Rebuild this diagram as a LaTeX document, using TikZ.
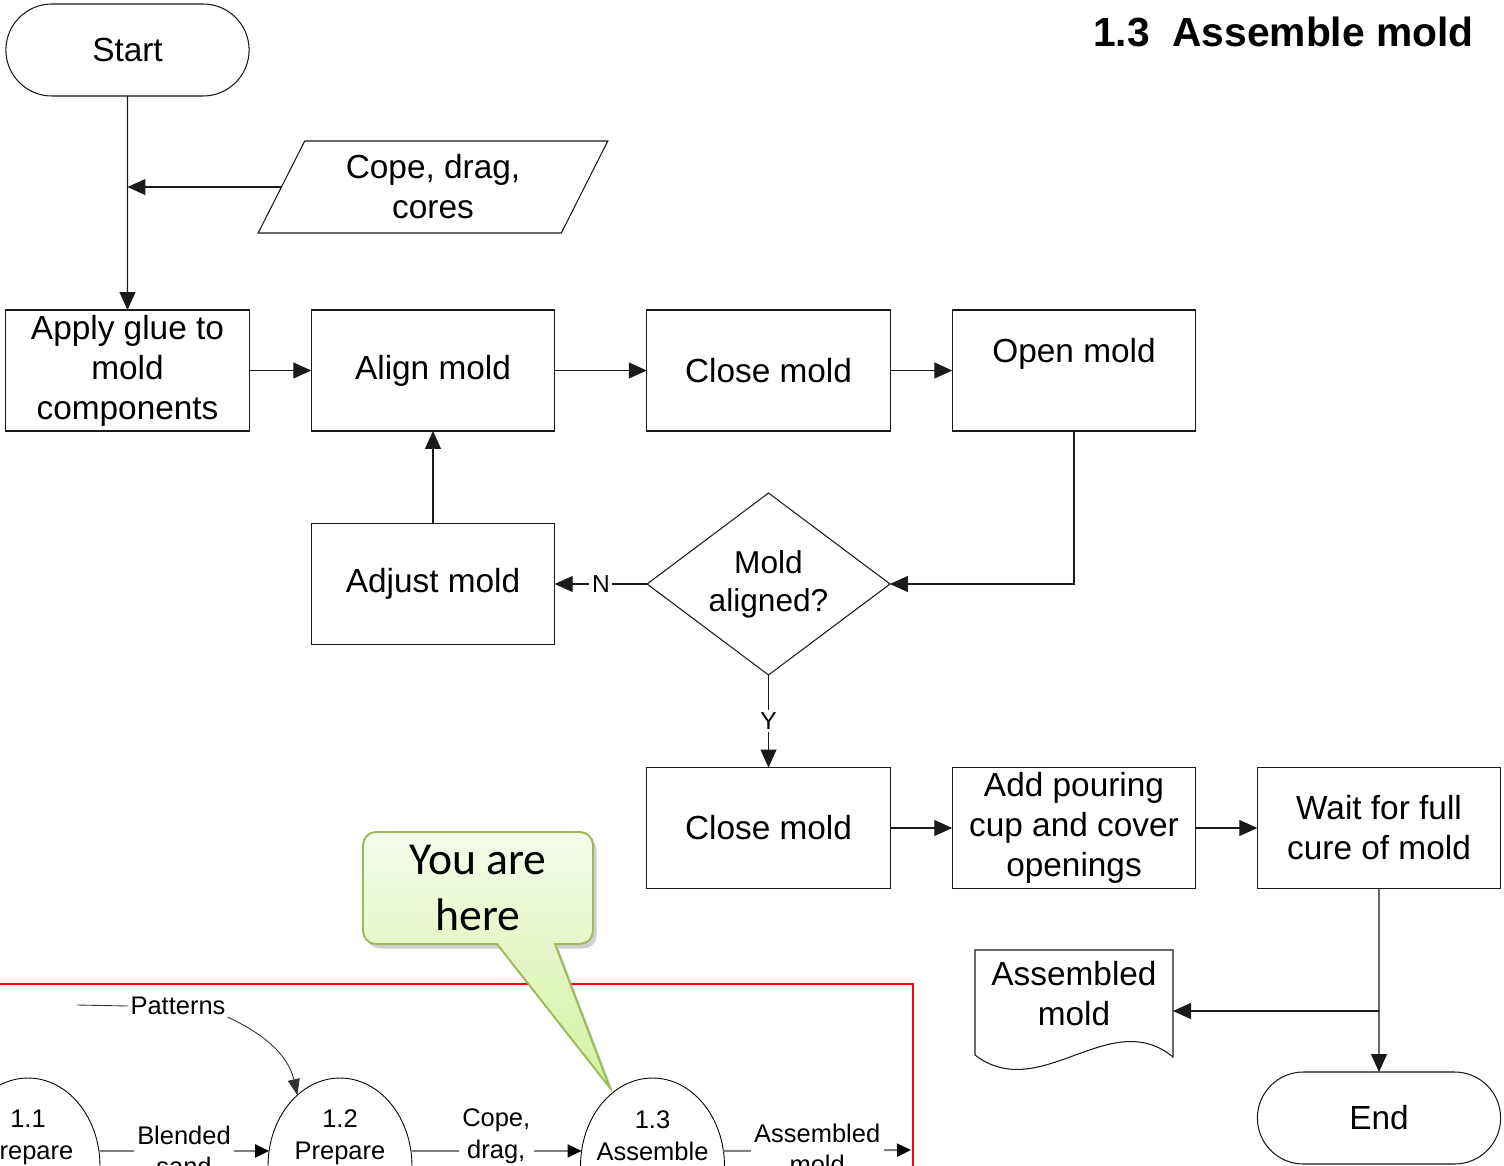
\documentclass[tikz,border=0pt]{standalone}
\usepackage{fontspec}
\setmainfont{Liberation Sans}
\newfontfamily\calloutfont{Carlito}
\usetikzlibrary{arrows.meta,shapes.geometric,shapes.misc,shadows}

\definecolor{flowline}{HTML}{1A1A1A}
\definecolor{dfdgray}{HTML}{7F7F7F}
\definecolor{callTop}{HTML}{F4FCEA}
\definecolor{callBot}{HTML}{D4F1A0}
\definecolor{callEdge}{HTML}{9BBB59}

\tikzset{
  flow/.style={draw=flowline, line width=0.6pt, align=center,
    font=\fontsize{19}{22.8}\selectfont},
  procbox/.style={flow, rectangle, minimum width=4.87cm, minimum height=2.42cm,
    inner sep=2pt, outer sep=0pt},
  terminal/.style={flow, rounded rectangle, minimum width=5.1cm,
    minimum height=1.84cm, outer sep=0pt},
  conn/.style={draw=flowline, line width=0.65pt,
    -{Triangle[length=0.36cm,width=0.32cm]}},
  yesno/.style={fill=white, inner sep=1.5pt, font=\fontsize{14}{16}\selectfont},
  dtext/.style={align=center, font=\fontsize{14.5}{18.1}\selectfont},
  dlab/.style={dtext, fill=white, inner sep=2pt},
  bubble/.style={ellipse, draw=black, line width=0.5pt, minimum width=2.88cm,
    minimum height=3.52cm, inner sep=0pt, outer sep=0pt},
  dfd/.style={draw=dfdgray, line width=1.1pt,
    -{Triangle[length=0.28cm,width=0.26cm,color=black]}},
  thinflow/.style={draw=black!80, line width=0.5pt},
  callout/.style={draw=callEdge, line width=1.1pt, top color=callTop,
    bottom color=callBot,
    drop shadow={shadow xshift=0.07cm, shadow yshift=-0.09cm, opacity=0.3,
      fill=black!60}}
}

\begin{document}
\begin{tikzpicture}[x=0.02cm,y=-0.02cm]
\useasboundingbox (0,0) rectangle (1504,1166);
\clip (0,0) rectangle (1504,1166);
\fill[white] (0,0) rectangle (1504,1166);

% title
\node[anchor=base east, inner sep=0pt, font=\bfseries\fontsize{23.2}{28}\selectfont]
  (title) at (1474,47) {1.3\ \ Assemble mold};

% flowchart nodes
\node[terminal] (start) at (127.5,50) {Start};
\node[flow, trapezium, trapezium left angle=63.9, trapezium right angle=116.1,
  trapezium stretches=true, minimum width=7cm, minimum height=1.84cm,
  inner sep=0pt, outer sep=0pt] (cope) at (433,187) {Cope, drag,\\cores};
\node[procbox] (apply) at (127.5,370.5) {Apply glue to\\mold\\components};
\node[procbox] (align) at (433,370.5) {Align mold};
\node[procbox] (close1) at (768.5,370.5) {Close mold};
\node[procbox] (open) at (1074,370.5) {Open mold\\\mbox{}};
\node[flow, diamond, minimum width=4.86cm, minimum height=3.64cm,
  inner sep=0pt, outer sep=0pt] (dec) at (768.5,584) {};
\node[align=center, font=\fontsize{18}{21.5}\selectfont] (decText)
  at (768.5,584) {Mold\\aligned?};
\node[procbox] (adjust) at (433,584) {Adjust mold};
\node[procbox] (close2) at (768.5,828) {Close mold};
\node[procbox] (pour) at (1074,828) {Add pouring\\cup and cover\\openings};
\node[procbox] (wait) at (1379,828) {Wait for full\\cure of mold};
\node[terminal] (end) at (1379,1118) {End};

% document shape with wavy lower edge
\draw[draw=flowline, line width=0.6pt]
  (975,1055) -- (975,950) -- (1173,950) -- (1173,1057)
  .. controls (1110,1005) and (1040,1105) .. (975,1055);
\node[align=center, font=\fontsize{19}{22.8}\selectfont] (doc)
  at (1074,994) {Assembled\\mold};
\coordinate (docE) at (1173,1011);

% flowchart connectors
\draw[conn] (start) -- (apply);
\draw[conn] (cope.west) -- (start.south |- cope.west);
\draw[conn] (apply) -- (align);
\draw[conn] (align) -- (close1);
\draw[conn] (close1) -- (open);
\draw[conn] (open.south) |- (dec.east);
\draw[conn] (dec.west) -- node[yesno] {N} (adjust.east);
\draw[conn] (adjust) -- (align);
\draw[conn] (dec.south) -- node[yesno] {Y} (close2.north);
\draw[conn] (close2) -- (pour);
\draw[conn] (pour) -- (wait);
\draw[conn] (wait) -- (end);
\draw[conn] (wait.south |- docE) -- (docE);

% context: level-1 data flow
\draw[red, line width=1.2pt] (-20,984) rectangle (913,1300);

\node[bubble] (p11) at (28,1166) {};
\node[bubble] (p12) at (340,1166) {};
\node[bubble] (p13) at (652.5,1166) {};
\node[dtext] (t11) at (28,1137) {1.1\\Prepare};
\node[dtext] (t12) at (340,1137) {1.2\\Prepare};
\node[dtext] (t13) at (652.5,1136) {1.3\\Assemble};

\draw[dfd] (p11.12) -- node[dlab] {Blended\\sand} (p12.168);
\draw[dfd] (p12.12) -- node[dlab, yshift=0.3cm] {Cope,\\drag,} (p13.168);
\coordinate (outR) at (911,1150);
\draw[dfd] (p13.12) -- node[dlab, yshift=0.03cm] {Assembled\\mold} (outR);

\coordinate (patIn) at (77,1005);
\node[dtext, inner sep=1pt] (pat) at (178,1006) {Patterns};
\draw[thinflow] (patIn) -- (pat.west);
\draw[thinflow, -{Triangle[length=0.32cm,width=0.24cm]}]
  (pat.south east) to[out=-25,in=103] (p12.121);

% location callout
\draw[callout] (497,944) -- (610,1088) -- (555,944)
  [rounded corners=0.26cm] -- (593,944) -- (593,832) -- (363,832)
  -- (363,944) [sharp corners] -- cycle;
\node[align=center, font=\calloutfont\fontsize{26}{32.3}\selectfont]
  (here) at (478,888) {You are\\here};
\end{tikzpicture}
\end{document}
